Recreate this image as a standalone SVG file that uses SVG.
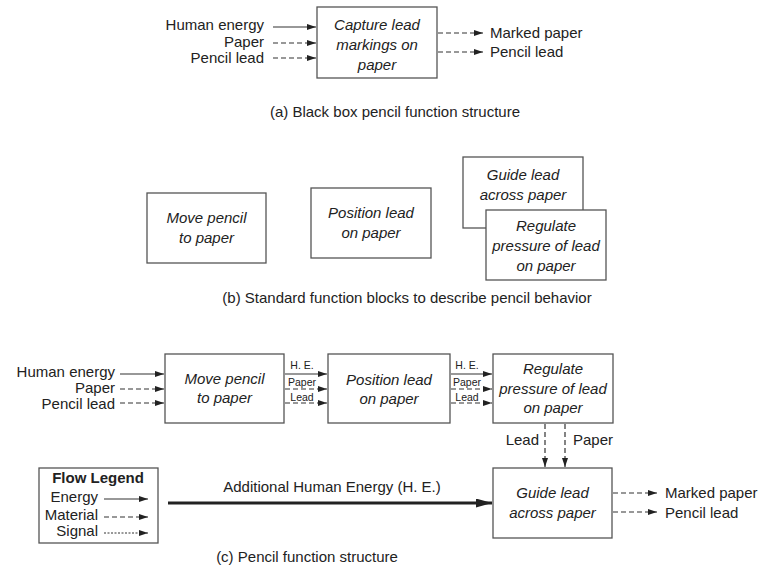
<svg xmlns="http://www.w3.org/2000/svg" width="760" height="570" viewBox="0 0 760 570">
<defs>
<style>
text{font-family:"Liberation Sans",Arial,sans-serif;font-size:15px;fill:#222}
.it{font-style:italic;text-anchor:middle}
.mid{text-anchor:middle}
.end{text-anchor:end}
.sm{font-size:10.5px;text-anchor:middle}
.bold{font-weight:bold}
.box{fill:#fff;stroke:#555;stroke-width:1.3}
.e{stroke:#333;stroke-width:1.2;fill:none;marker-end:url(#ah)}
.m{stroke:#333;stroke-width:1.2;fill:none;stroke-dasharray:5,3;marker-end:url(#ah)}
.s{stroke:#333;stroke-width:1;fill:none;stroke-dasharray:2,1.5;marker-end:url(#ah)}
.big{stroke:#222;stroke-width:3.2;fill:none;marker-end:url(#bh)}
</style>
<marker id="ah" viewBox="0 0 9 6" refX="9" refY="3" markerWidth="9" markerHeight="6" markerUnits="userSpaceOnUse" orient="auto"><path d="M0,0 L9,3 L0,6 z" fill="#222"/></marker>
<marker id="bh" viewBox="0 0 16 9" refX="16" refY="4.5" markerWidth="16" markerHeight="9" markerUnits="userSpaceOnUse" orient="auto"><path d="M0,0 L16,4.5 L0,9 z" fill="#222"/></marker>
</defs>
<rect width="760" height="570" fill="#fff"/>

<!-- (a) -->
<g id="capture">
<rect class="box" x="317" y="7" width="120" height="71"/>
<text class="it" x="377" y="30">Capture lead</text>
<text class="it" x="377" y="50">markings on</text>
<text class="it" x="377" y="70">paper</text>
</g>
<g id="a-labels">
<text class="end" x="264" y="30">Human energy</text>
<text class="end" x="264" y="47">Paper</text>
<text class="end" x="264" y="63">Pencil lead</text>
<text x="490" y="38">Marked paper</text>
<text x="490" y="57">Pencil lead</text>
<text class="mid" x="395" y="117">(a) Black box pencil function structure</text>
</g>

<!-- (b) -->
<g id="b-move">
<rect class="box" x="147" y="193" width="119" height="70"/>
<text class="it" x="206.5" y="223">Move pencil</text>
<text class="it" x="206.5" y="243">to paper</text>
</g>
<g id="b-position">
<rect class="box" x="311" y="188" width="120" height="70"/>
<text class="it" x="371" y="218">Position lead</text>
<text class="it" x="371" y="238">on paper</text>
</g>
<g id="b-guide">
<rect class="box" x="463" y="157" width="120" height="71"/>
<text class="it" x="523" y="180">Guide lead</text>
<text class="it" x="523" y="200">across paper</text>
</g>
<g id="b-regulate">
<rect class="box" x="486" y="210" width="120" height="70"/>
<text class="it" x="546" y="231">Regulate</text>
<text class="it" x="546" y="251">pressure of lead</text>
<text class="it" x="546" y="271">on paper</text>
</g>
<text class="mid" x="407" y="303">(b) Standard function blocks to describe pencil behavior</text>

<!-- (c) -->
<g id="c-move">
<rect class="box" x="165" y="354" width="119" height="69"/>
<text class="it" x="224.5" y="384">Move pencil</text>
<text class="it" x="224.5" y="403">to paper</text>
</g>
<g id="c-position">
<rect class="box" x="328" y="354" width="122" height="69"/>
<text class="it" x="389" y="385">Position lead</text>
<text class="it" x="389" y="404">on paper</text>
</g>
<g id="c-regulate">
<rect class="box" x="493" y="354" width="120" height="69"/>
<text class="it" x="553" y="374">Regulate</text>
<text class="it" x="553" y="394">pressure of lead</text>
<text class="it" x="553" y="413">on paper</text>
</g>
<g id="c-guide">
<rect class="box" x="493" y="468" width="119" height="70"/>
<text class="it" x="552.5" y="498">Guide lead</text>
<text class="it" x="552.5" y="518">across paper</text>
</g>
<g id="legend">
<rect class="box" x="39" y="468" width="119" height="75"/>
<text class="mid bold" x="98" y="483">Flow Legend</text>
<text class="end" x="98" y="502">Energy</text>
<text class="end" x="98" y="520">Material</text>
<text class="end" x="98" y="536">Signal</text>
<line class="e" x1="104" y1="499" x2="148" y2="499"/>
<line class="m" x1="104" y1="517" x2="148" y2="517"/>
<line class="s" x1="104" y1="533" x2="148" y2="533"/>
</g>
<g id="c-labels">
<text class="end" x="115" y="377">Human energy</text>
<text class="end" x="115" y="393">Paper</text>
<text class="end" x="115" y="409">Pencil lead</text>
<text class="sm" x="302" y="369">H. E.</text>
<text class="sm" x="302" y="386">Paper</text>
<text class="sm" x="302" y="401">Lead</text>
<text class="sm" x="467" y="369">H. E.</text>
<text class="sm" x="467" y="386">Paper</text>
<text class="sm" x="467" y="401">Lead</text>
<text class="end" x="539" y="445">Lead</text>
<text x="573" y="445">Paper</text>
<text x="665" y="498">Marked paper</text>
<text x="665" y="518">Pencil lead</text>
<text class="mid" x="332" y="492">Additional Human Energy (H. E.)</text>
<text class="mid" x="307" y="562">(c) Pencil function structure</text>
</g>

<g id="connectors">
<line class="e" x1="273" y1="27" x2="316" y2="27"/>
<line class="m" x1="273" y1="43" x2="316" y2="43"/>
<line class="m" x1="273" y1="58" x2="316" y2="58"/>
<line class="m" x1="438" y1="33" x2="483" y2="33"/>
<line class="m" x1="438" y1="52" x2="483" y2="52"/>

<line class="e" x1="120" y1="374" x2="164" y2="374"/>
<line class="m" x1="120" y1="389" x2="164" y2="389"/>
<line class="m" x1="120" y1="403" x2="164" y2="403"/>
<line class="e" x1="285" y1="374" x2="327" y2="374"/>
<line class="m" x1="285" y1="389" x2="327" y2="389"/>
<line class="m" x1="285" y1="403" x2="327" y2="403"/>
<line class="e" x1="451" y1="374" x2="492" y2="374"/>
<line class="m" x1="451" y1="389" x2="492" y2="389"/>
<line class="m" x1="451" y1="403" x2="492" y2="403"/>
<line class="m" x1="545" y1="424" x2="545" y2="467"/>
<line class="m" x1="565" y1="424" x2="565" y2="467"/>
<line class="big" x1="168" y1="503" x2="492" y2="503"/>
<line class="m" x1="613" y1="493" x2="657" y2="493"/>
<line class="m" x1="613" y1="512" x2="657" y2="512"/>
</g>
</svg>
